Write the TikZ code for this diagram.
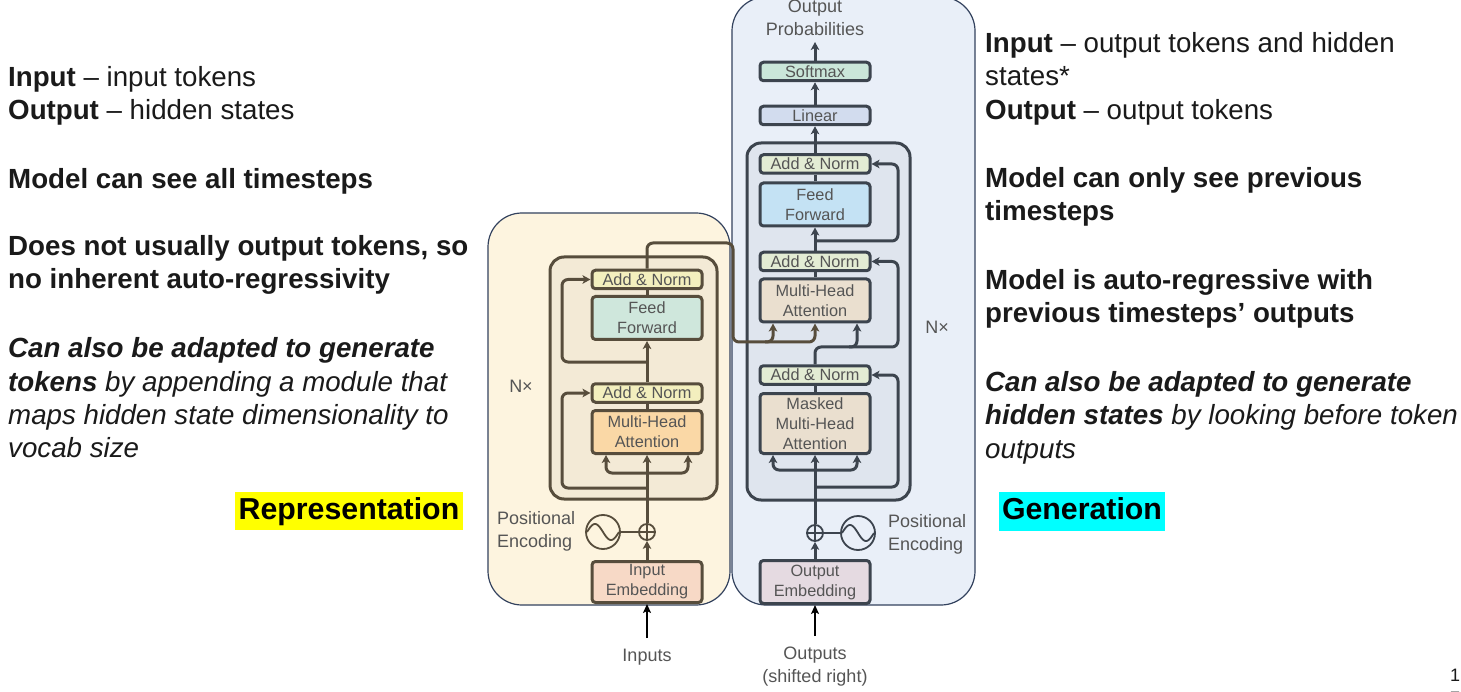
\documentclass[tikz,border=0pt]{standalone}
\usepackage{fontspec}
\setmainfont{Liberation Sans}
\usetikzlibrary{arrows.meta,positioning}

\definecolor{enclin}{HTML}{574D3C}
\definecolor{declin}{HTML}{3C444E}
\definecolor{outl}{HTML}{33425E}
\definecolor{encbg}{HTML}{FDF4DF}
\definecolor{encnx}{HTML}{F3EAD6}
\definecolor{decbg}{HTML}{E9EFF8}
\definecolor{decnx}{HTML}{DFE5EE}
\definecolor{encan}{HTML}{F3EFBE}
\definecolor{encff}{HTML}{CFE7DC}
\definecolor{encmha}{HTML}{FAD8A6}
\definecolor{encemb}{HTML}{F7D9C6}
\definecolor{decan}{HTML}{E3ECD4}
\definecolor{decff}{HTML}{C4E2F4}
\definecolor{decmha}{HTML}{EADFCF}
\definecolor{decemb}{HTML}{E5DAE1}
\definecolor{decsm}{HTML}{CAE6D9}
\definecolor{declinear}{HTML}{D2DCEE}
\definecolor{boxtext}{HTML}{555555}
\definecolor{bodytext}{HTML}{1A1A1A}
\definecolor{hlyellow}{HTML}{FFFF00}
\definecolor{hlcyan}{HTML}{00FFFF}

\newcommand\bodyfont{\fontsize{27.7}{33}\selectfont}
\newcommand\boxfont{\fontsize{16.3}{20}\selectfont}
\newcommand\lblfont{\fontsize{18}{23}\selectfont}
\newcommand\hlfont{\fontsize{30.3}{36}\selectfont\bfseries}

\begin{document}
\begin{tikzpicture}[x=1pt,y=-1pt,
  txt/.style={anchor=base west, inner sep=0pt, font=\bodyfont, text=bodytext},
  hl/.style={inner sep=0pt, font=\hlfont, text=black, text height=22pt, text depth=6pt},
  blk/.style={draw=#1, line width=3pt, rounded corners=3.5pt, minimum width=110pt,
    inner sep=0pt, align=center, font=\boxfont, text=boxtext},
  lbl/.style={inner sep=0pt, font=\lblfont, text=boxtext},
  encl/.style={draw=enclin, line width=3pt, rounded corners=6pt},
  decl/.style={draw=declin, line width=3pt, rounded corners=6pt},
  tip/.tip={Stealth[length=8pt,width=8.5pt,inset=2pt]},
  pe/.style={circle, line width=1.8pt, inner sep=0pt}]
\fill[white] (0,0) rectangle (1461,692);
\useasboundingbox (0,0) rectangle (1461,692);

% left text
\node[txt] (l1) at (8,87) {\textbf{Input} – input tokens};
\node[txt] (l2) at (8,120) {\textbf{Output} – hidden states};
\node[txt] (l3) at (8,189) {\textbf{Model can see all timesteps}};
\node[txt] (l4) at (8,256) {\textbf{Does not usually output tokens, so}};
\node[txt] (l5) at (8,289) {\textbf{no inherent auto-regressivity}};
\node[txt] (l6) at (8,358) {\textbf{\textit{Can also be adapted to generate}}};
\node[txt] (l7) at (8,391) {\textbf{\textit{tokens}}\textit{ by appending a module that}};
\node[txt] (l8) at (8,424) {\textit{maps hidden state dimensionality to}};
\node[txt] (l9) at (8,457) {\textit{vocab size}};
\node[hl, fill=hlyellow, minimum width=228pt, minimum height=38pt] (repr) at (349,511) {Representation};

% right text
\node[txt] (r1) at (985,53) {\textbf{Input} – output tokens and hidden};
\node[txt] (r2) at (985,86) {states*};
\node[txt] (r3) at (985,120) {\textbf{Output} – output tokens};
\node[txt] (r4) at (985,188) {\textbf{Model can only see previous}};
\node[txt] (r5) at (985,221) {\textbf{timesteps}};
\node[txt] (r6) at (985,290) {\textbf{Model is auto-regressive with}};
\node[txt] (r7) at (985,323) {\textbf{previous timesteps’ outputs}};
\node[txt] (r8) at (985,391) {\textbf{\textit{Can also be adapted to generate}}};
\node[txt] (r9) at (985,424) {\textbf{\textit{hidden states}}\textit{ by looking before token}};
\node[txt] (r10) at (985,458) {\textit{outputs}};
\node[hl, fill=hlcyan, minimum width=166pt, minimum height=39pt] (gen) at (1082,511.5) {Generation};

% backgrounds
\draw[outl, fill=decbg, line width=1.2pt, rounded corners=34pt] (732,-3) rectangle (975,605);
\draw[outl, fill=encbg, line width=1.2pt, rounded corners=34pt] (488,213) rectangle (730,605);
\draw[enclin, fill=encnx, line width=3pt, rounded corners=14pt] (550,257) rectangle (717,499);
\draw[declin, fill=decnx, line width=3pt, rounded corners=14pt] (747,143) rectangle (910,500);

% encoder
\node[blk=enclin, fill=encan, minimum height=18.5pt] (ean2) at (647,279.5) {Add \& Norm};
\node[blk=enclin, fill=encff, minimum height=43pt] (eff) at (647,318) {Feed\\Forward};
\node[blk=enclin, fill=encan, minimum height=18.5pt] (ean1) at (647,393) {Add \& Norm};
\node[blk=enclin, fill=encmha, minimum height=43pt] (emha) at (647,432) {Multi-Head\\Attention};
\node[blk=enclin, fill=encemb, minimum height=41pt] (eemb) at (647,582) {Input\\Embedding};
\node[pe, draw=enclin, minimum size=16pt] (eplus) at (647,532) {};
\node[pe, draw=enclin, minimum size=34pt] (esin) at (603,532) {};
\draw[enclin, line width=1.5pt] (eplus.north) -- (eplus.south) (eplus.west) -- (eplus.east);
\draw[enclin, line width=1.8pt] plot[domain=-180:180, samples=41] ({603+\x*16/180},{532+8*sin(\x)});
\draw[enclin, line width=1.8pt] (esin) -- (eplus);
\node[lbl, align=left, anchor=west] (epos) at (497,531) {Positional\\Encoding};
\node[lbl] (enx) at (521,386) {N×};
\node[lbl] (einp) at (647,657) {Inputs};
\coordinate (einpt) at (647,638);

% decoder
\node[blk=declin, fill=decsm, minimum height=18.5pt] (dsm) at (815,71.5) {Softmax};
\node[blk=declin, fill=declinear, minimum height=18.5pt] (dlin) at (815,115.5) {Linear};
\node[blk=declin, fill=decan, minimum height=18.5pt] (dan3) at (815,164) {Add \& Norm};
\node[blk=declin, fill=decff, minimum height=43pt] (dff) at (815,204.5) {Feed\\Forward};
\node[blk=declin, fill=decan, minimum height=18.5pt] (dan2) at (815,261.5) {Add \& Norm};
\node[blk=declin, fill=decmha, minimum height=43pt] (dmha) at (815,300.5) {Multi-Head\\Attention};
\node[blk=declin, fill=decan, minimum height=18.5pt] (dan1) at (815,375) {Add \& Norm};
\node[blk=declin, fill=decmha, minimum height=60pt] (dmmha) at (815,423.5) {Masked\\Multi-Head\\Attention};
\node[blk=declin, fill=decemb, minimum height=43pt] (demb) at (815,582) {Output\\Embedding};
\node[pe, draw=declin, minimum size=16pt] (dplus) at (815,533) {};
\node[pe, draw=declin, minimum size=34pt] (dsin) at (858,533) {};
\draw[declin, line width=1.5pt] (dplus.north) -- (dplus.south) (dplus.west) -- (dplus.east);
\draw[declin, line width=1.8pt] plot[domain=-180:180, samples=41] ({858+\x*16/180},{533+8*sin(\x)});
\draw[declin, line width=1.8pt] (dplus) -- (dsin);
\node[lbl, align=left, anchor=west] (dpos) at (888,534) {Positional\\Encoding};
\node[lbl] (dnx) at (937,327) {N×};
\node[lbl, align=center] (dprob) at (815,18) {Output\\Probabilities};
\coordinate (dprobt) at (815,42);
\node[lbl, align=center] (dout) at (815,667) {Outputs\\(shifted right)};
\coordinate (doutt) at (815,636);

% encoder connectors
\draw[black, line width=2.2pt, -{Stealth[length=9pt,width=8pt,inset=2pt]}] (einpt) -- (eemb.south);
\draw[encl, -tip] (eemb.north) -- (eplus.south);
\draw[encl, -tip] (eplus.north) -- (emha.south);
\draw[encl, -tip] (647,473) -- (606,473) -- ([xshift=-41pt]emha.south);
\draw[encl, -tip] (647,473) -- (688,473) -- ([xshift=41pt]emha.south);
\draw[encl, -tip] (647,488) -- (562,488) -- (562,393) -- (ean1.west);
\draw[encl] (emha.north) -- (ean1.south);
\draw[encl, -tip] (ean1.north) -- (eff.south);
\draw[encl, -tip] (647,362) -- (562,362) -- (562,279.5) -- (ean2.west);
\draw[encl] (eff.north) -- (ean2.south);
\draw[encl, -tip] (ean2.north) -- (647,243) -- (733,243) -- (733,342) -- (815,342) -- (dmha.south);
\draw[encl, -tip] (765,342) -- (773,342) -- ([xshift=-42pt]dmha.south);

% decoder connectors
\draw[black, line width=2.2pt, -{Stealth[length=9pt,width=8pt,inset=2pt]}] (doutt) -- (demb.south);
\draw[decl, -tip] (demb.north) -- (dplus.south);
\draw[decl, -tip] (dplus.north) -- (dmmha.south);
\draw[decl, -tip] (815,470) -- (773,470) -- ([xshift=-42pt]dmmha.south);
\draw[decl, -tip] (815,470) -- (857,470) -- ([xshift=42pt]dmmha.south);
\draw[decl, -tip] (815,487) -- (898,487) -- (898,375) -- (dan1.east);
\draw[decl] (dmmha.north) -- (dan1.south);
\draw[decl, -tip] (dan1.north) -- (815,347) -- (898,347) -- (898,261.5) -- (dan2.east);
\draw[decl, -tip] (849,347) -- (857,347) -- ([xshift=42pt]dmha.south);
\draw[decl] (dmha.north) -- (dan2.south);
\draw[decl, -tip] (dan2.north) -- (dff.south);
\draw[decl, -tip] (815,241) -- (898,241) -- (898,164) -- (dan3.east);
\draw[decl] (dff.north) -- (dan3.south);
\draw[decl, -tip] (dan3.north) -- (dlin.south);
\draw[decl, -tip] (dlin.north) -- (dsm.south);
\draw[decl, -tip] (dsm.north) -- (dprobt);

% page number
\node[anchor=north, align=center, inner sep=0pt, font=\lblfont, text=bodytext] (pgn) at (1455,669) {1\\7};
\end{tikzpicture}
\end{document}
